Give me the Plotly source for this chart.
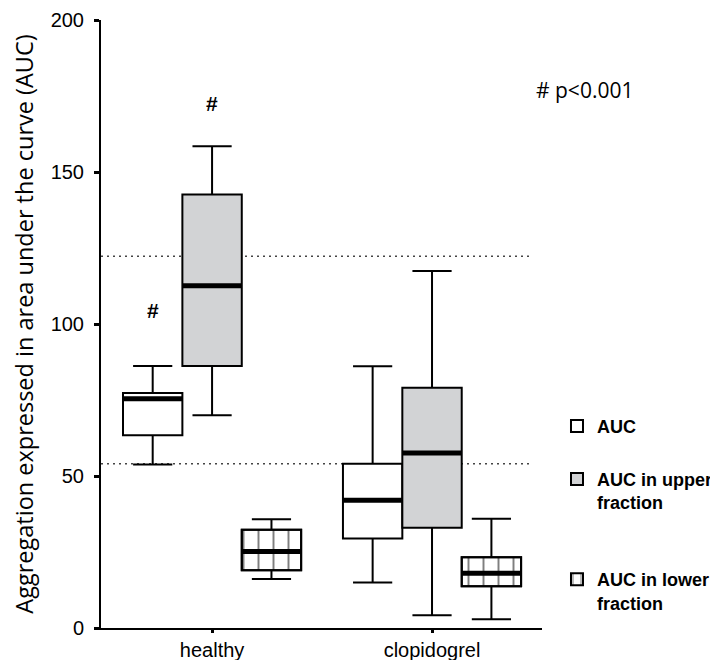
import plotly.graph_objects as go

categories = ["healthy", "clopidogrel"]
series_names = ["AUC", "AUC in upper<br>fraction", "AUC in lower<br>fraction"]

# box statistics, one value per category
auc_low = [53.8, 15.0]
auc_q1 = [63.4, 29.4]
auc_med = [75.4, 42.0]
auc_q3 = [77.3, 54.0]
auc_high = [86.2, 86.1]

upper_low = [70.0, 4.2]
upper_q1 = [86.2, 33.0]
upper_med = [112.6, 57.6]
upper_q3 = [142.6, 79.0]
upper_high = [158.5, 117.4]

lower_low = [16.1, 2.9]
lower_q1 = [19.0, 13.7]
lower_med = [25.2, 18.0]
lower_q3 = [32.3, 23.3]
lower_high = [35.8, 35.9]

ref_lines = [54.0, 122.3]
y_ticks = [0, 50, 100, 150, 200]

# "#" markers: (category index, series index, height)
sig_marks = [(0, 0, 104.5), (0, 1, 172.5)]
sig_note = "# p<0.001"

stats = [
    (auc_low, auc_q1, auc_med, auc_q3, auc_high),
    (upper_low, upper_q1, upper_med, upper_q3, upper_high),
    (lower_low, lower_q1, lower_med, lower_q3, lower_high),
]
fills = ["white", "#d2d3d5", "rgba(0,0,0,0)"]
legends = ["legend", "legend2", "legend3"]

cat_pos = list(range(len(categories)))
offsets = [-0.27, 0.0, 0.27]
box_w = 0.27

FONT = "Liberation Sans"

fig = go.Figure()

for i, (lo, q1, med, q3, hi) in enumerate(stats):
    xs = [c + offsets[i] for c in cat_pos]
    if i == 2:
        # hatched fill for the lower fraction, drawn under the box outline
        fig.add_trace(go.Bar(
            x=xs, y=[b - a for a, b in zip(q1, q3)], base=q1, width=box_w,
            marker=dict(color="white", line=dict(color="black", width=2),
                        pattern=dict(shape="|", fgcolor="black", bgcolor="white",
                                     size=15, solidity=0.13)),
            name=series_names[i], legend=legends[i], hoverinfo="skip",
        ))
    fig.add_trace(go.Box(
        x=xs, q1=q1, median=med, q3=q3, lowerfence=lo, upperfence=hi,
        width=box_w, whiskerwidth=0.66, fillcolor=fills[i],
        line=dict(color="black", width=2),
        name=series_names[i], legend=legends[i], showlegend=(i != 2),
    ))
    # thick median bar
    mx, my = [], []
    for x, m in zip(xs, med):
        mx += [x - box_w / 2, x + box_w / 2, None]
        my += [m, m, None]
    fig.add_trace(go.Scatter(x=mx, y=my, mode="lines",
                             line=dict(color="black", width=5),
                             showlegend=False, hoverinfo="skip"))

for y in ref_lines:
    fig.add_shape(type="line", xref="paper", yref="y", x0=0, x1=0.973, y0=y, y1=y,
                  line=dict(color="#444444", width=1.5, dash="2px,4px"), layer="below")

for ci, si, y in sig_marks:
    fig.add_annotation(x=cat_pos[ci] + offsets[si], y=y, text="#", showarrow=False,
                       font=dict(family=FONT, size=21, color="black", weight="bold"))

fig.add_annotation(x=1.0975, y=0.885, xref="paper", yref="paper", text=sig_note,
                   xanchor="center", yanchor="middle", showarrow=False,
                   font=dict(family="Open Sans", size=21, color="black"))

legend_common = dict(x=1.034, xanchor="left", yanchor="top", valign="top",
                     bgcolor="rgba(0,0,0,0)",
                     font=dict(family=FONT, size=18, color="black", weight="bold"))

# the page body adds an 8px offset, so the figure is sized to the visible area
fig.update_layout(
    width=710, height=652,
    template="plotly_white",
    plot_bgcolor="white", paper_bgcolor="white",
    margin=dict(l=93, r=176, t=12, b=32, autoexpand=False),
    legend=dict(y=0.362, **legend_common),
    legend2=dict(y=0.275, **legend_common),
    legend3=dict(y=0.110, **legend_common),
    xaxis=dict(range=[-0.505, 1.5], tickvals=cat_pos, ticktext=categories,
               showline=True, linecolor="black", linewidth=2,
               ticks="outside", ticklen=3, tickwidth=3, tickcolor="black",
               showgrid=False, zeroline=False, ticklabeloverflow="allow",
               tickfont=dict(family=FONT, size=20, color="black")),
    yaxis=dict(range=[0, 200], tickvals=y_ticks,
               showline=True, linecolor="black", linewidth=2,
               ticks="outside", ticklen=5, tickwidth=3, tickcolor="black",
               showgrid=False, zeroline=False, ticklabeloverflow="allow",
               ticklabelstandoff=6,
               tickfont=dict(family=FONT, size=20, color="black"),
               title=dict(text="Aggregation expressed in area under the curve (AUC)",
                          font=dict(family="Open Sans", size=23.5, color="black"),
                          standoff=21)),
)

fig.write_html("out.html")
